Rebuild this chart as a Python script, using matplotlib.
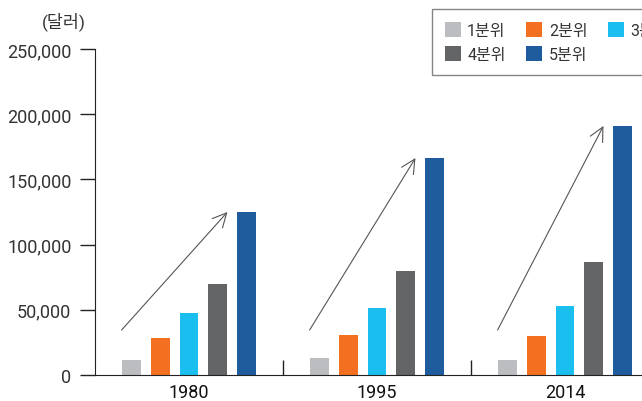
import matplotlib
matplotlib.use("Agg")
import matplotlib.pyplot as plt
import numpy as np
from matplotlib.patches import Patch
from matplotlib.ticker import FuncFormatter

plt.rcParams['font.family'] = ['Roboto', 'Noto Sans CJK KR', 'DejaVu Sans']

# 데이터
years = ["1980", "1995", "2014"]
quintiles = ["1분위", "2분위", "3분위", "4분위", "5분위"]
q1 = [11500, 13000, 11500]
q2 = [28400, 30700, 29900]
q3 = [47500, 51400, 52900]
q4 = [69800, 79800, 86700]
q5 = [125000, 166400, 191000]
colors = ["#bcbdc0", "#f37021", "#1bbfef", "#636466", "#1f5c9e"]

series = [q1, q2, q3, q4, q5]

fig = plt.figure(figsize=(6.42, 4.02), dpi=100)
ax = fig.add_axes([95 / 642, 1 - 376 / 402, 564 / 642, 326 / 402])

x = np.arange(len(years))
step = 0.154
width = 0.101
for i, vals in enumerate(series):
    ax.bar(x + (i - 2) * step, vals, width=width, color=colors[i], zorder=2)

# 화살표 (1분위 -> 5분위)
for k in range(len(years)):
    x0 = x[k] - 2 * step - width / 2
    x1 = x[k] + 1 * step + width / 2
    ax.annotate("", xy=(x1, q5[k]), xytext=(x0, 34500),
                arrowprops=dict(arrowstyle="->,head_length=1.0,head_width=0.5",
                                color="#555555", lw=0.8, shrinkA=0, shrinkB=0))

ax.set_xlim(-0.5, 2.5)
ax.set_ylim(0, 250000)
ax.set_yticks(np.arange(0, 250001, 50000))
ax.yaxis.set_major_formatter(FuncFormatter(lambda v, p: f"{int(v):,}"))
ax.set_xticks(x)
ax.set_xticklabels(years, fontsize=13, color="#111111")
ax.set_xticks([0.5, 1.5], minor=True)
ax.tick_params(axis="x", which="major", length=0, pad=6)
ax.tick_params(axis="x", which="minor", direction="in", length=11, width=1, color="#222222")
ax.tick_params(axis="y", direction="out", length=11, width=1, color="#222222",
               labelsize=13, labelcolor="#333333", pad=6)

for s in ["top", "right"]:
    ax.spines[s].set_visible(False)
ax.spines["left"].set_color("#222222")
ax.spines["bottom"].set_color("#222222")

fig.text(64 / 642, 1 - 22 / 402, "(달러)", fontsize=12.5, color="#333333",
         ha="center", va="center")

# 범례: 행 우선 배치를 위해 순서 조정
order = [0, 3, 1, 4, 2]
handles = [Patch(facecolor=colors[i], edgecolor="none") for i in order]
labels = [quintiles[i] for i in order]
leg = fig.legend(handles, labels, ncol=3, loc="upper left",
                 bbox_to_anchor=(432 / 642, 1 - 10 / 402), borderaxespad=0,
                 frameon=True, fancybox=False, fontsize=11.5,
                 handlelength=1.0, handleheight=1.1, handletextpad=0.4,
                 columnspacing=1.3, labelspacing=0.5, borderpad=0.8)
leg.get_frame().set_edgecolor("#666666")
leg.get_frame().set_linewidth(1.0)
for t in leg.get_texts():
    t.set_color("#333333")

fig.savefig("out.png", dpi=100)
